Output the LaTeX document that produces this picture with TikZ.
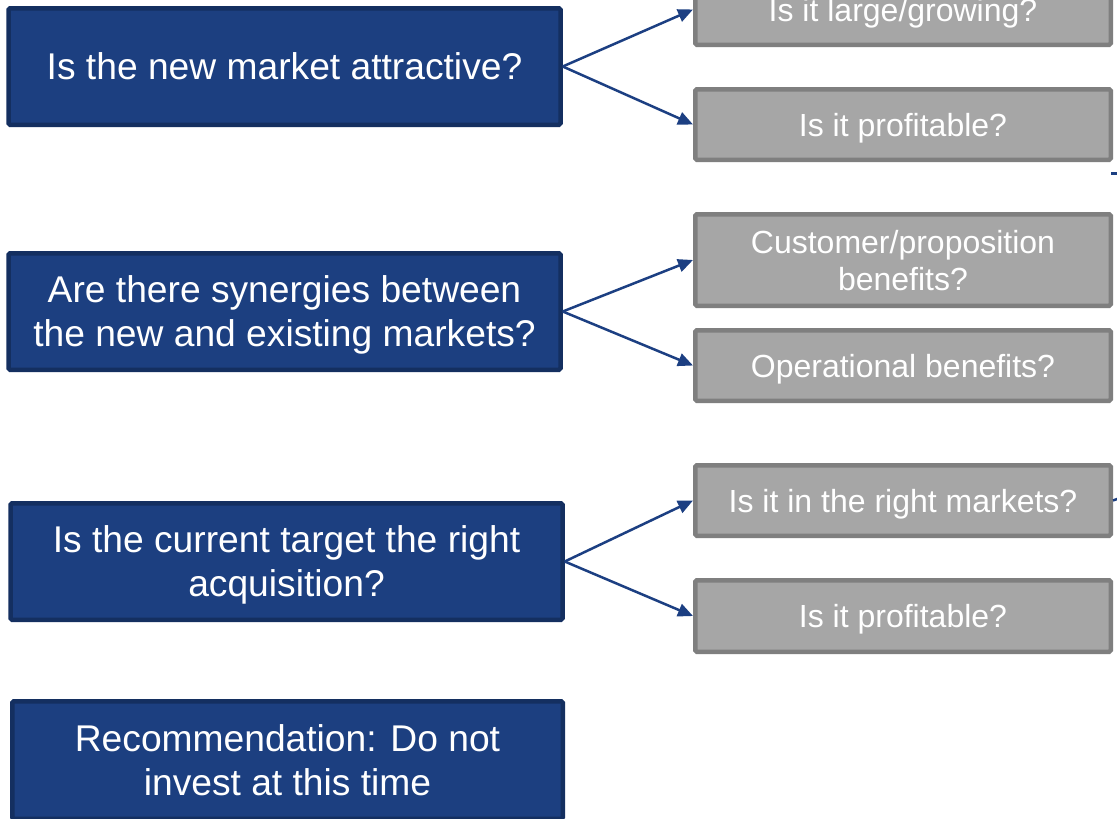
\documentclass[tikz,border=0pt]{standalone}
\usepackage{fontspec}
\setmainfont{Liberation Sans}
\usetikzlibrary{arrows.meta}
\definecolor{qfill}{HTML}{1C3F80}
\definecolor{qline}{HTML}{142F60}
\definecolor{gfill}{HTML}{A6A6A6}
\definecolor{gline}{HTML}{7F7F7F}
\definecolor{arr}{HTML}{1C3F82}
\tikzset{
  qbox/.style={draw=qline, fill=qfill, line width=4.5pt, rounded corners=1.5pt,
    text=white, align=center, inner sep=0pt, text depth=0pt,
    font=\fontsize{37.2}{44}\selectfont,
    minimum width=552pt, minimum height=116.5pt},
  gbox/.style={draw=gline, fill=gfill, line width=4.5pt, rounded corners=1.5pt,
    text=white, align=center, inner sep=0pt, text depth=0pt,
    font=\fontsize{32}{37}\selectfont,
    minimum width=415.5pt, minimum height=70.5pt},
  conn/.style={draw=arr, line width=2.5pt, -{Triangle[length=15pt,width=13pt]}},
  stub/.style={draw=arr, line width=2.5pt}
}
\begin{document}
\begin{tikzpicture}[x=1pt,y=-1pt]
\clip (0,0) rectangle (1117,819);
\fill[white] (0,0) rectangle (1117,819);
% question boxes
\node[qbox] (q1) at (284.5,66.5) {Is the new market attractive?};
\node[qbox] (q2) at (284.5,311.5) {Are there synergies between\\the new and existing markets?};
\node[qbox] (q3) at (286.5,561.5) {Is the current target the right\\acquisition?};
\node[qbox, minimum width=550.5pt, minimum height=117.5pt] (q4) at (287.5,760) {Recommendation: Do not\\invest at this time};
% sub-question boxes
\node[gbox] (g1) at (903,9.5) {Is it large/growing?};
\node[gbox] (g2) at (903,124.5) {Is it profitable?};
\node[gbox, minimum height=91.5pt] (g3) at (903,260) {Customer/proposition\\benefits?};
\node[gbox] (g4) at (903,365.5) {Operational benefits?};
\node[gbox] (g5) at (903,500.5) {Is it in the right markets?};
\node[gbox, minimum height=71.5pt] (g6) at (903,616) {Is it profitable?};
% connectors
\draw[conn] (q1.east) -- (g1.west);
\draw[conn] (q1.east) -- (g2.west);
\draw[conn] (q2.east) -- (g3.west);
\draw[conn] (q2.east) -- (g4.west);
\draw[conn] (q3.east) -- (g5.west);
\draw[conn] (q3.east) -- (g6.west);
% stubs of connectors leaving the picture
\coordinate (sa) at (1111,173.5);
\coordinate (sb) at (1140,173.5);
\coordinate (sc) at (1145,489);
\draw[stub] (sa) -- (sb);
\draw[stub] (g5.east) -- (sc);
\end{tikzpicture}
\end{document}
